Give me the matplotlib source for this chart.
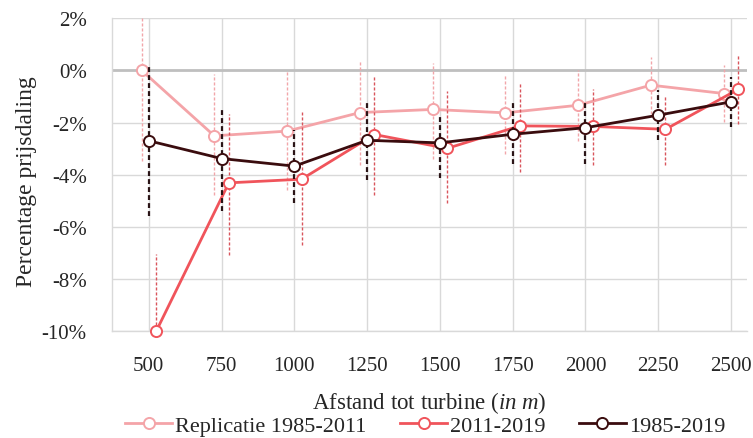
import matplotlib
matplotlib.use('Agg')
import matplotlib.pyplot as plt
from matplotlib.lines import Line2D
import numpy as np

# ---- data ----
distances = ['500', '750', '1000', '1250', '1500', '1750', '2000', '2250', '2500']

rep_vals = [0.0, -2.51, -2.33, -1.62, -1.50, -1.63, -1.34, -0.57, -0.89]
rep_hi   = [2.0, -0.13, 0.0, 0.38, 0.26, -0.19, 0.0, 0.51, 0.19]
rep_lo   = [-3.49, -4.78, -4.60, -3.63, -3.38, -3.19, -2.70, -1.66, -1.97]

s1119_vals = [-10.0, -4.31, -4.17, -2.46, -2.99, -2.13, -2.15, -2.26, -0.73]
s1119_hi   = [-7.05, -1.66, -1.59, -0.21, -0.80, -0.44, -0.70, -0.96, 0.64]
s1119_lo   = [-13.0, -7.07, -6.69, -4.78, -5.10, -3.89, -3.63, -3.63, -2.04]

s8519_vals = [-2.70, -3.38, -3.67, -2.68, -2.78, -2.45, -2.20, -1.72, -1.21]
s8519_hi   = [0.13, -1.40, -2.30, -1.15, -1.66, -1.21, -1.15, -0.76, -0.25]
s8519_lo   = [-5.57, -5.40, -5.10, -4.20, -4.14, -3.57, -3.57, -2.68, -2.17]

labels = ['Replicatie 1985-2011', '2011-2019', '1985-2019']
yticks = [2, 0, -2, -4, -6, -8, -10]

plt.rcParams['font.family'] = ['Liberation Serif', 'DejaVu Serif']
plt.rcParams['mathtext.fontset'] = 'custom'
plt.rcParams['mathtext.rm'] = 'Liberation Serif'
plt.rcParams['mathtext.it'] = 'Liberation Serif:italic'

fig = plt.figure(figsize=(7.53, 4.39), dpi=100)
ax = fig.add_axes([0.1483, 0.2426, 0.8437, 0.7141])

x = np.arange(len(distances))

series = [
    (rep_vals, rep_lo, rep_hi, -0.1, '#F4A4A8', '#F2A6AA', 1.0, 2),
    (s1119_vals, s1119_lo, s1119_hi, 0.1, '#F0545B', '#D9555C', 1.0, 3),
    (s8519_vals, s8519_lo, s8519_hi, 0.0, '#3A0C0E', '#2A1416', 1.6, 4),
]

for vals, lo, hi, off, col, ecol, elw, z in series:
    v = np.array(vals); l = np.array(lo); h = np.array(hi)
    xs = x + off
    eb = ax.errorbar(xs, v, yerr=[v - l, h - v], fmt='none', ecolor=ecol,
                     elinewidth=elw, capsize=0, zorder=z)
    for lc in eb[2]:
        lc.set_linestyle((0, (2.2, 1.4)))
    ax.plot(xs, v, color=col, lw=2.0, marker='o', markersize=8,
            markerfacecolor='white', markeredgecolor=col, markeredgewidth=1.4,
            zorder=z + 0.5, clip_on=False)

ax.set_xlim(-0.51, 8.22)
ax.set_ylim(-10, 2)
ax.set_xticks(x)
ax.set_xticklabels(distances)
ax.set_yticks(yticks)
ax.set_yticklabels([f'{t}%' for t in yticks])
ax.tick_params(axis='both', length=0, labelsize=15, colors='#262626')
ax.tick_params(axis='y', pad=18)
ax.tick_params(axis='x', pad=18)

ax.grid(True, color='#D9D9D9', lw=1.0, zorder=0)
ax.set_axisbelow(True)
ax.axhline(0, color='#BFBFBF', lw=2.0, zorder=1)
for s in ['top', 'right']:
    ax.spines[s].set_visible(False)
for s in ['left', 'bottom']:
    ax.spines[s].set_color('#D9D9D9')
    ax.spines[s].set_linewidth(1.0)

ax.set_xlabel('Afstand tot turbine $\\mathit{(in\\ m)}$', fontsize=16.5, color='#262626')
ax.xaxis.set_label_coords(0.5, -0.185)
ax.set_ylabel('Percentage prijsdaling', fontsize=17, color='#262626')
ax.yaxis.set_label_coords(-0.118, 0.48)

handles = [Line2D([], [], color=c, lw=2.0, marker='o', markersize=8,
                  markerfacecolor='white', markeredgecolor=c, markeredgewidth=1.4)
           for c in ['#F4A4A8', '#F0545B', '#3A0C0E']]
fig.legend(handles, labels, loc='center', bbox_to_anchor=(0.565, 0.028), ncol=3,
           frameon=False, fontsize=16, handlelength=2.1, handletextpad=0.15,
           columnspacing=1.5, labelcolor='#262626')

fig.savefig('out.png', dpi=100)
